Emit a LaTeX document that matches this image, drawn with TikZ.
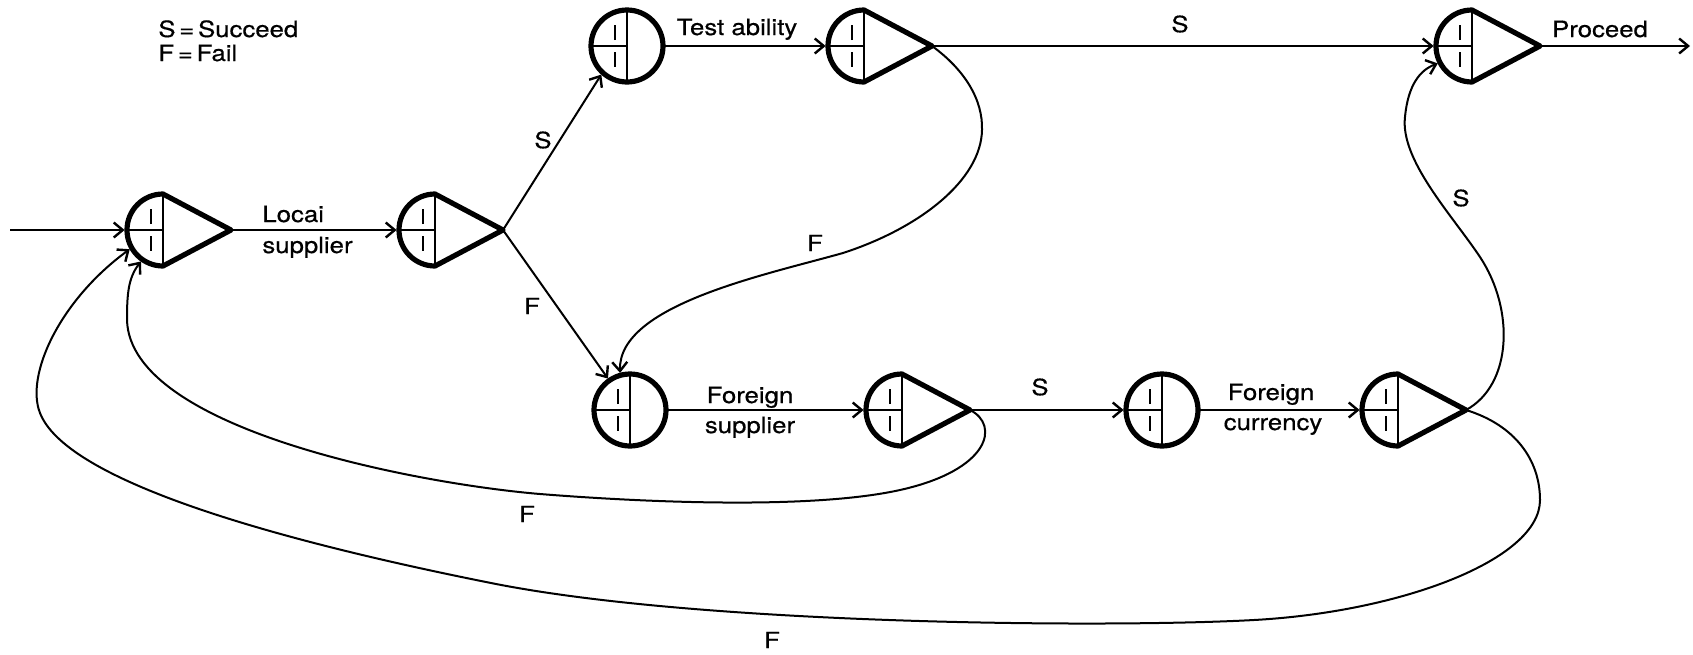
\documentclass[tikz,border=0pt]{standalone}
\usepackage{fontspec}
\setmainfont{TeX Gyre Heros}[FakeStretch=1.15,FakeBold=0.5]
\usetikzlibrary{calc,arrows.meta}
\tikzset{
  nodebase/.style={circle, minimum size=36pt, inner sep=0pt, outer sep=1.2pt},
  outline/.style={line width=2.6pt, line join=round},
  innerl/.style={line width=1.4pt},
  tickl/.style={line width=1.3pt},
  conn/.style={line width=1pt, -{Straight Barb[length=4.5pt,width=7.5pt,line width=1.2pt]}},
  lab/.style={font=\fontsize{11.2pt}{13pt}\selectfont, inner sep=0pt},
}
\newcommand\ppinside[1]{%
  \path (#1.center) ++(0,18pt) coordinate (#1n) ++(0,-36pt) coordinate (#1s);
  \draw[innerl] (#1n) -- (#1s);
  \draw[innerl] ($(#1.center)+(-18pt,0)$) -- (#1.center);
  \draw[tickl] ($(#1.center)+(-6pt,3pt)$) -- ++(0,7.5pt) ($(#1.center)+(-6pt,-3pt)$) -- ++(0,-7.5pt);
}
\newcommand\ppcirc[2]{%
  \node[nodebase] (#1) at (#2) {};
  \draw[outline] (#1.center) circle[radius=18pt];
  \ppinside{#1}
}
\newcommand\pptri[2]{%
  \node[nodebase] (#1) at (#2) {};
  \ppinside{#1}
  \coordinate (#1t) at ($(#1.center)+(34pt,0)$);
  \draw[outline] (#1s) .. controls +(-9.94pt,0) and +(0,-9.94pt) .. ($(#1.center)+(-18pt,0)$)
     .. controls +(0,9.94pt) and +(-9.94pt,0) .. (#1n) -- (#1t) -- cycle;
}
\begin{document}
\begin{tikzpicture}[x=0.5pt,y=-0.5pt]
\useasboundingbox (0,0) rectangle (1693,654);
% nodes
\pptri{A}{163,230}
\pptri{B}{435,230}
\ppcirc{C}{627,46}
\pptri{D}{864,46}
\pptri{E}{1472,46}
\ppcirc{F}{630,410}
\pptri{G}{902,410}
\ppcirc{H}{1162,410}
\pptri{I}{1398,410}
\coordinate (in) at (10,230);
\coordinate (out) at (1690,46);
% straight connectors
\draw[conn] (in) -- (A.west);
\draw[conn] (At) -- (B.west);
\draw[conn] (Bt) -- (C.228);
\draw[conn] (Bt) -- (F.125);
\draw[conn] (C.east) -- (D.west);
\draw[conn] (Dt) -- (E.west);
\draw[conn] (Et) -- (out);
\draw[conn] (F.east) -- (G.west);
\draw[conn] (Gt) -- (H.west);
\draw[conn] (H.east) -- (I.west);
% curved connectors
\draw[conn] (Dt) .. controls (965,70) and (983,100) .. (982,130)
  .. controls (981,180) and (920,228) .. (843,253)
  .. controls (765,275) and (618,305) .. (F.105);
\draw[conn] (Gt) .. controls (1000,425) and (990,470) .. (900,490)
  .. controls (810,510) and (640,502) .. (540,494)
  .. controls (420,484) and (130,430) .. (127,320)
  .. controls (127,295) and (128,278) .. (A.235);
\draw[conn] (It) .. controls (1515,425) and (1540,460) .. (1540,500)
  .. controls (1540,560) and (1400,612) .. (1254,620)
  .. controls (1108,628) and (700,625) .. (491,583)
  .. controls (331,551) and (70,490) .. (40,413)
  .. controls (25,375) and (60,300) .. (A.210);
\draw[conn] (It) .. controls (1512,385) and (1515,310) .. (1480,257)
  .. controls (1452,215) and (1400,160) .. (1405,117)
  .. controls (1408,85) and (1420,70) .. (E.207);
% labels
\node[lab, anchor=base west] (leg1) at (158,37) {S\,=\,Succeed};
\node[lab, anchor=base west] (leg2) at (158,61) {F\,=\,Fail};
\node[lab, anchor=base west] (ls1) at (262,222) {Locai};
\node[lab, anchor=base west] (ls2) at (262,253) {supplier};
\node[lab, anchor=base] (ta) at (737,35) {Test ability};
\node[lab, anchor=base] (pr) at (1600,37) {Proceed};
\node[lab, anchor=base] (fs1) at (750,403) {Foreign};
\node[lab, anchor=base] (fs2) at (750,433) {supplier};
\node[lab, anchor=base] (fc1) at (1271,400) {Foreign};
\node[lab, anchor=base] (fc2) at (1273,430) {currency};
\node[lab] (s1) at (543,140) {S};
\node[lab] (f1) at (532,306) {F};
\node[lab] (s2) at (1180,24) {S};
\node[lab] (f2) at (815,243) {F};
\node[lab] (s3) at (1040,387) {S};
\node[lab] (s4) at (1461,198) {S};
\node[lab] (f3) at (527,514) {F};
\node[lab] (f4) at (772,640) {F};
\end{tikzpicture}
\end{document}
